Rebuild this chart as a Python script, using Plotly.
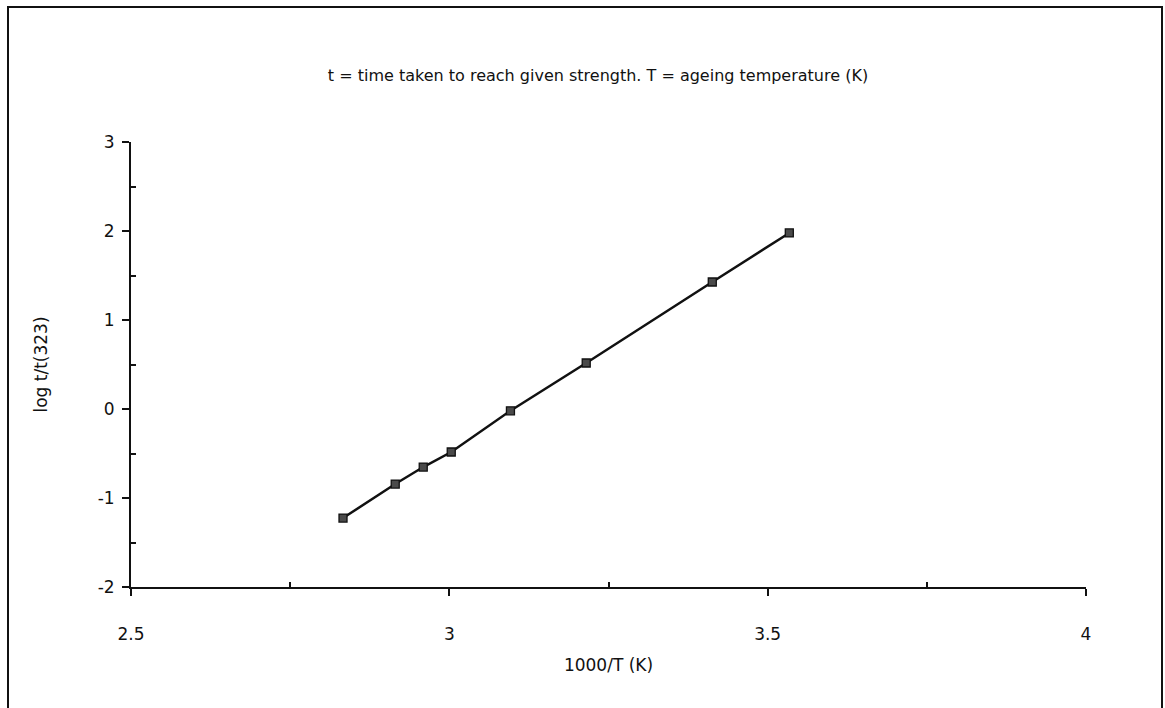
import plotly.graph_objects as go

inv_T = [2.833, 2.915, 2.959, 3.003, 3.096, 3.215, 3.413, 3.534]
log_ratio = [-1.225, -0.843, -0.652, -0.483, -0.02, 0.517, 1.427, 1.978]

title_text = "t = time taken to reach given strength. T = ageing temperature (K)"
x_title = "1000/T (K)"
y_title = "log t/t(323)"

FONT = "'DejaVu Sans', sans-serif"

fig = go.Figure()
fig.add_trace(go.Scatter(
    x=inv_T, y=log_ratio, mode="lines+markers",
    line=dict(color="#111111", width=2.5),
    marker=dict(symbol="square", size=8, color="#4a4a4a",
                line=dict(color="#111111", width=1.3)),
    showlegend=False,
))

fig.update_layout(
    width=1165, height=708,
    margin=dict(l=131, r=79, t=142, b=121),
    paper_bgcolor="white", plot_bgcolor="white",
    font=dict(family=FONT, size=16, color="#111111"),
    title=dict(text=title_text, x=598/1165, xanchor="center",
               y=1 - 75/708, yanchor="middle", xref="container", yref="container",
               font=dict(family=FONT, size=16, color="#111111")),
    xaxis=dict(range=[2.5, 4], tickvals=[2.5, 3, 3.5, 4], ticktext=["2.5", "3", "3.5", "4"],
               showgrid=False, zeroline=False, showline=True, linecolor="#111111", linewidth=2,
               ticks="outside", ticklen=7, tickwidth=2, tickcolor="#111111",
               ticklabelstandoff=24,
               minor=dict(tickvals=[2.75, 3.25, 3.75], ticks="inside", ticklen=5,
                          tickwidth=1.5, tickcolor="#111111", showgrid=False),
               title=dict(text=x_title, standoff=16, font=dict(size=17)),
               tickfont=dict(size=17)),
    yaxis=dict(range=[-2, 3], tickvals=[-2, -1, 0, 1, 2, 3], ticktext=["-2", "-1", "0", "1", "2", "3"],
               showgrid=False, zeroline=False, showline=True, linecolor="#111111", linewidth=2,
               ticks="outside", ticklen=7, tickwidth=2, tickcolor="#111111",
               ticklabelstandoff=4,
               minor=dict(tickvals=[-1.5, -0.5, 0.5, 1.5, 2.5], ticks="inside", ticklen=5,
                          tickwidth=1.5, tickcolor="#111111", showgrid=False),
               title=dict(text=y_title, standoff=46, font=dict(size=17)),
               tickfont=dict(size=17)),
    shapes=[dict(type="rect", xref="paper", yref="paper",
                 x0=(8 - 131) / 955, x1=(1162 - 131) / 955,
                 y0=(587 - 730) / 445, y1=(587 - 7) / 445,
                 line=dict(color="#111111", width=2), fillcolor="rgba(0,0,0,0)", layer="below")],
)

fig.write_html("out.html")
